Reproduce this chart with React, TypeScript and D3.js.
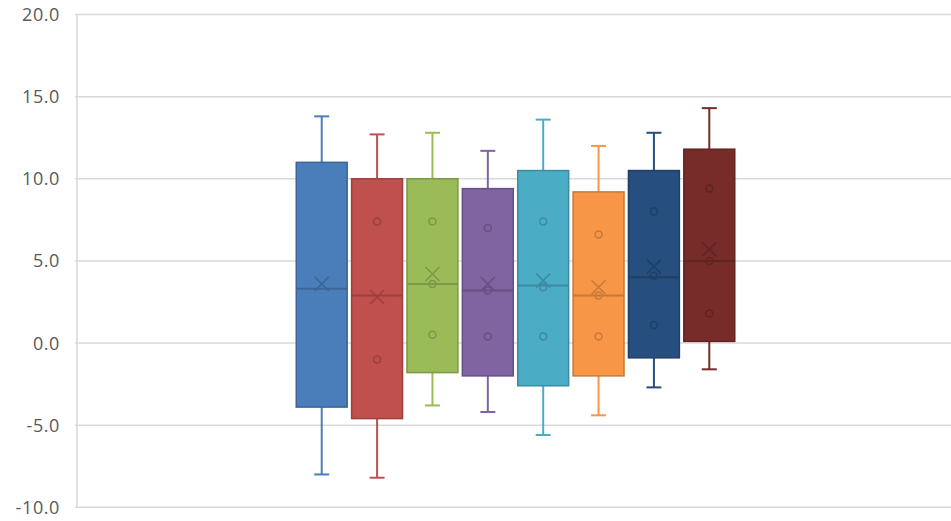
import React from "react";
import * as d3 from "d3";

// Box-and-whisker summary, one box per series
const seriesNames = ["Series 1", "Series 2", "Series 3", "Series 4", "Series 5", "Series 6", "Series 7", "Series 8"];
const seriesColors = ["#4a7ebb", "#c0504d", "#9bbb59", "#8064a2", "#4bacc6", "#f79646", "#264e7e", "#772c2a"];
const whiskerMin = [-8.0, -8.2, -3.8, -4.2, -5.6, -4.4, -2.7, -1.6];
const quartile1 = [-3.9, -4.6, -1.8, -2.0, -2.6, -2.0, -0.9, 0.1];
const medians = [3.3, 2.9, 3.6, 3.2, 3.5, 2.9, 4.0, 5.0];
const quartile3 = [11.0, 10.0, 10.0, 9.4, 10.5, 9.2, 10.5, 11.8];
const whiskerMax = [13.8, 12.7, 12.8, 11.7, 13.6, 12.0, 12.8, 14.3];
const means = [3.6, 2.8, 4.2, 3.6, 3.8, 3.4, 4.65, 5.7];
const innerPoints: number[][] = [
  [],
  [7.4, -1.0],
  [7.4, 3.6, 0.5],
  [7.0, 3.2, 0.4],
  [7.4, 3.4, 0.4],
  [6.6, 2.9, 0.4],
  [8.0, 4.1, 1.1],
  [9.4, 5.0, 1.8],
];
const categories = ["Group"];
const yTicks = [-10, -5, 0, 5, 10, 15, 20];

const W = 951;
const H = 521;
const plotLeft = 77;
const plotRight = 954;
const plotTop = 14.5;
const plotBottom = 507.3;

export default function App() {
  const y = d3.scaleLinear().domain([-10, 20]).range([plotBottom, plotTop]);
  const x0 = d3.scaleBand<string>().domain(categories).range([plotLeft, plotRight]).paddingOuter(0.5).paddingInner(0);
  const x1 = d3
    .scaleBand<string>()
    .domain(seriesNames)
    .range([0, x0.bandwidth()])
    .paddingInner(0.08)
    .paddingOuter(0);
  const fmt = (v: number) => v.toFixed(1);
  const bw = x1.bandwidth();
  const capHalf = 7.5;
  const xHalf = 7;

  return (
    <svg
      width={W}
      height={H}
      style={{ position: "absolute", left: 0, top: 0, background: "#fff" }}
      fontFamily="'Open Sans', 'Noto Sans', sans-serif"
    >
      {/* gridlines */}
      {yTicks.map((t) => (
        <line key={t} x1={plotLeft - 2} x2={plotRight} y1={y(t)} y2={y(t)} stroke="#d9d9d9" strokeWidth={1.5} />
      ))}
      <line x1={plotLeft} x2={plotLeft} y1={plotTop} y2={plotBottom} stroke="#d9d9d9" strokeWidth={1.5} />
      {/* tick labels */}
      {yTicks.map((t) => (
        <text
          key={t}
          x={60}
          y={y(t)}
          dy="0.36em"
          textAnchor="end"
          fontSize={18}
          letterSpacing={0.6}
          fill="#595959"
        >
          {fmt(t)}
        </text>
      ))}
      {categories.map((c) => (
        <g key={c} transform={`translate(${x0(c)},0)`}>
          {seriesNames.map((s, i) => {
            const left = x1(s)!;
            const cx = left + bw / 2;
            const col = seriesColors[i];
            const dark = d3.color(col)!.darker(0.6).formatHex();
            return (
              <g key={s}>
                {/* whiskers */}
                <line x1={cx} x2={cx} y1={y(whiskerMax[i])} y2={y(quartile3[i])} stroke={col} strokeWidth={2} />
                <line x1={cx} x2={cx} y1={y(quartile1[i])} y2={y(whiskerMin[i])} stroke={col} strokeWidth={2} />
                <line x1={cx - capHalf} x2={cx + capHalf} y1={y(whiskerMax[i])} y2={y(whiskerMax[i])} stroke={col} strokeWidth={2} />
                <line x1={cx - capHalf} x2={cx + capHalf} y1={y(whiskerMin[i])} y2={y(whiskerMin[i])} stroke={col} strokeWidth={2} />
                {/* box */}
                <rect
                  x={left}
                  y={y(quartile3[i])}
                  width={bw}
                  height={y(quartile1[i]) - y(quartile3[i])}
                  fill={col}
                  stroke={dark}
                  strokeWidth={1.5}
                />
                {/* median */}
                <line x1={left} x2={left + bw} y1={y(medians[i])} y2={y(medians[i])} stroke={dark} strokeWidth={2} />
                {/* mean marker */}
                <path
                  d={`M${cx - xHalf},${y(means[i]) - xHalf} L${cx + xHalf},${y(means[i]) + xHalf} M${cx - xHalf},${y(means[i]) + xHalf} L${cx + xHalf},${y(means[i]) - xHalf}`}
                  stroke={dark}
                  strokeWidth={1.5}
                  fill="none"
                />
                {/* inner points */}
                {innerPoints[i].map((p, j) => (
                  <circle key={j} cx={cx} cy={y(p)} r={3.5} fill="none" stroke={dark} strokeWidth={1.5} />
                ))}
              </g>
            );
          })}
        </g>
      ))}
    </svg>
  );
}
